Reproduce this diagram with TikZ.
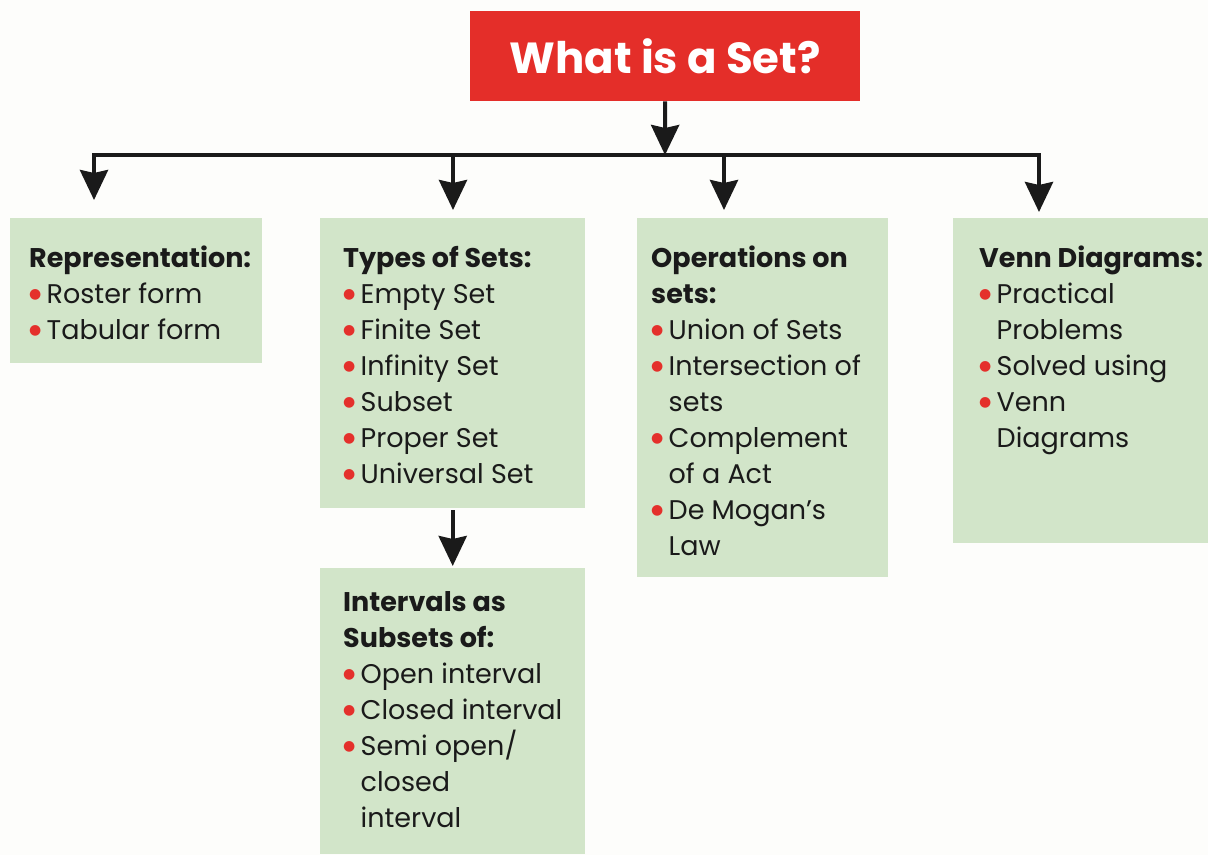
\documentclass[tikz,border=0pt]{standalone}
\usepackage{fontspec}
\setmainfont{Poppins}
\newfontfamily\symfont{DejaVu Sans}
\usetikzlibrary{arrows.meta}
\definecolor{titlered}{HTML}{E42E29}
\definecolor{bulred}{HTML}{E4302B}
\definecolor{boxgreen}{HTML}{D2E5C9}
\definecolor{textdark}{HTML}{1A1A1A}
\definecolor{bgcol}{HTML}{FDFDFB}
\newcommand{\bul}{\makebox[17.5bp][l]{\raisebox{4.5bp}{\symfont\fontsize{14bp}{14bp}\selectfont\textcolor{bulred}{●}}}}
\newcommand{\cont}{\hspace*{17.5bp}}
\newcommand{\firstline}{\rule{0pt}{24bp}}
\tikzset{
  box/.style={fill=boxgreen, draw=none, anchor=north west, inner sep=0pt},
  txt/.style={anchor=north west, inner sep=0pt, align=left, text=textdark,
    font=\fontsize{27bp}{36bp}\selectfont},
  titlebox/.style={fill=titlered, text=white, draw=none, inner sep=0pt,
    anchor=north west, font=\fontsize{43.5bp}{50bp}\selectfont\bfseries},
  conn/.style={line width=4bp, draw=textdark},
  arr/.style={conn, -{Stealth[length=30bp,width=28bp,inset=3bp]}},
}
\begin{document}
\begin{tikzpicture}[x=1bp,y=-1bp]
\fill[bgcol] (0,0) rectangle (1208,855);
\useasboundingbox (0,0) rectangle (1208,855);

\node[titlebox, minimum width=390bp, minimum height=90bp] (title) at (470,11) {What is a Set?};

\node[box, minimum width=252bp, minimum height=145bp] (rep) at (10,218) {};
\node[box, minimum width=265bp, minimum height=290bp] (types) at (320,218) {};
\node[box, minimum width=265bp, minimum height=286bp] (intv) at (320,568) {};
\node[box, minimum width=251bp, minimum height=359bp] (ops) at (637,218) {};
\node[box, minimum width=255bp, minimum height=325bp] (venn) at (953,218) {};

\node[txt] (repT) at (29,243) {\firstline\textbf{Representation:}\\
\bul Roster form\\
\bul Tabular form};

\node[txt] (typesT) at (343,243) {\firstline\textbf{Types of Sets:}\\
\bul Empty Set\\
\bul Finite Set\\
\bul Infinity Set\\
\bul Subset\\
\bul Proper Set\\
\bul Universal Set};

\node[txt] (intvT) at (343,587) {\firstline\textbf{Intervals as}\\
\textbf{Subsets of:}\\
\bul Open interval\\
\bul Closed interval\\
\bul Semi open/\\
\cont closed\\
\cont interval};

\node[txt] (opsT) at (651,243) {\firstline\textbf{Operations on}\\
\textbf{sets:}\\
\bul Union of Sets\\
\bul Intersection of\\
\cont sets\\
\bul Complement\\
\cont of a Act\\
\bul De Mogan’s\\
\cont Law};

\node[txt] (vennT) at (979,243) {\firstline\textbf{Venn Diagrams:}\\
\bul Practical\\
\cont Problems\\
\bul Solved using\\
\bul Venn\\
\cont Diagrams};

\coordinate (bus) at (665,155);
\coordinate (j1) at (94,155);
\coordinate (j2) at (453,155);
\coordinate (j3) at (724,155);
\coordinate (j4) at (1039,155);

\draw[conn, line cap=rect] (j1) -- (j4);
\draw[arr] (title.south) -- (bus);
\draw[arr, shorten >=18bp] (j1) -- (j1 |- rep.north);
\draw[arr, shorten >=8bp] (j2) -- (j2 |- types.north);
\draw[arr, shorten >=8bp] (j3) -- (j3 |- ops.north);
\draw[arr, shorten >=6bp] (j4) -- (j4 |- venn.north);
\draw[arr, shorten <=2bp, shorten >=2bp] (types.south) -- (intv.north);
\end{tikzpicture}
\end{document}
